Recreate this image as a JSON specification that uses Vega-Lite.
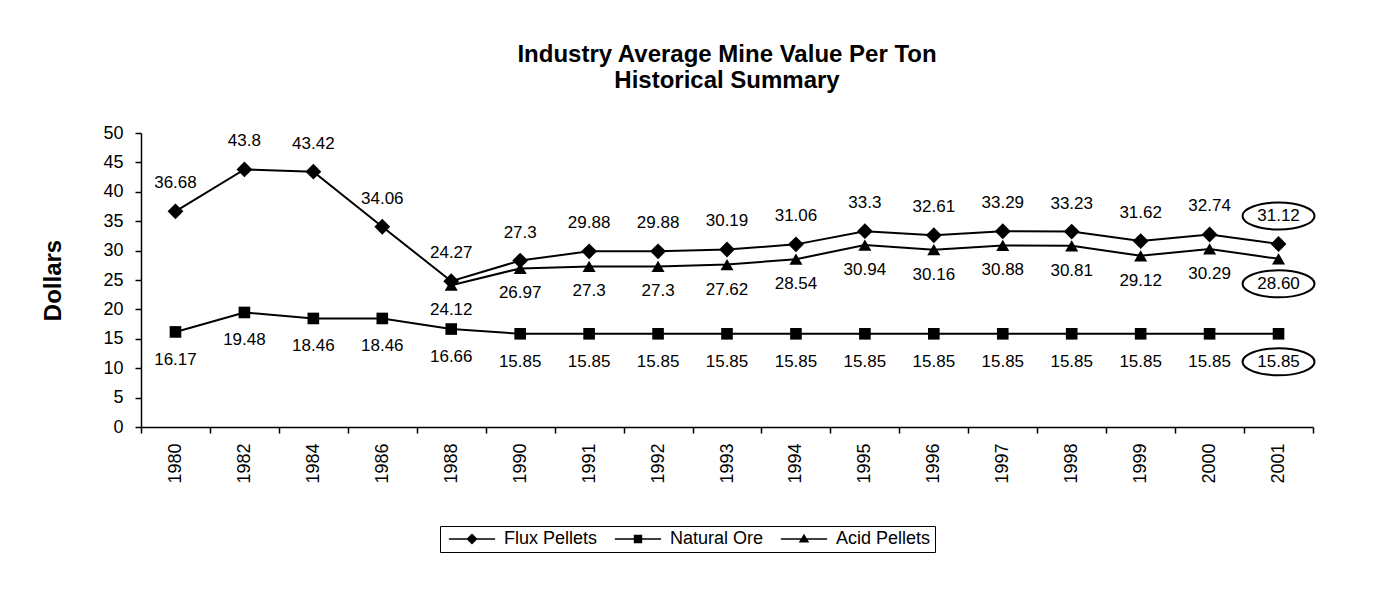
{
  "$schema": "https://vega.github.io/schema/vega-lite/v6.json",
  "width": 1172,
  "height": 294,
  "autosize": {"type": "none"},
  "padding": {"left": 141, "top": 133, "right": 69, "bottom": 170},
  "background": "white",
  "config": {
    "font": "Liberation Sans",
    "view": {"stroke": null},
    "axis": {"domainColor": "black", "tickColor": "black", "labelColor": "black", "titleColor": "black", "domainWidth": 1.5, "tickWidth": 1.5, "grid": false}
  },
  "title": {
    "text": ["Industry Average Mine Value Per Ton", "Historical Summary"],
    "fontSize": 24,
    "fontWeight": "bold",
    "lineHeight": 26,
    "color": "black",
    "anchor": "middle",
    "frame": "group",
    "offset": 31
  },
  "data": {
    "values": [
      {"year": "1980", "series": "Flux Pellets", "value": 36.68, "label": "36.68"},
      {"year": "1982", "series": "Flux Pellets", "value": 43.8, "label": "43.8"},
      {"year": "1984", "series": "Flux Pellets", "value": 43.42, "label": "43.42"},
      {"year": "1986", "series": "Flux Pellets", "value": 34.06, "label": "34.06"},
      {"year": "1988", "series": "Flux Pellets", "value": 24.8, "label": "24.27"},
      {"year": "1990", "series": "Flux Pellets", "value": 28.3, "label": "27.3"},
      {"year": "1991", "series": "Flux Pellets", "value": 29.88, "label": "29.88"},
      {"year": "1992", "series": "Flux Pellets", "value": 29.88, "label": "29.88"},
      {"year": "1993", "series": "Flux Pellets", "value": 30.19, "label": "30.19"},
      {"year": "1994", "series": "Flux Pellets", "value": 31.06, "label": "31.06"},
      {"year": "1995", "series": "Flux Pellets", "value": 33.3, "label": "33.3"},
      {"year": "1996", "series": "Flux Pellets", "value": 32.61, "label": "32.61"},
      {"year": "1997", "series": "Flux Pellets", "value": 33.29, "label": "33.29"},
      {"year": "1998", "series": "Flux Pellets", "value": 33.23, "label": "33.23"},
      {"year": "1999", "series": "Flux Pellets", "value": 31.62, "label": "31.62"},
      {"year": "2000", "series": "Flux Pellets", "value": 32.74, "label": "32.74"},
      {"year": "2001", "series": "Flux Pellets", "value": 31.12, "label": "31.12"},
      {"year": "1980", "series": "Natural Ore", "value": 16.17, "label": "16.17"},
      {"year": "1982", "series": "Natural Ore", "value": 19.48, "label": "19.48"},
      {"year": "1984", "series": "Natural Ore", "value": 18.46, "label": "18.46"},
      {"year": "1986", "series": "Natural Ore", "value": 18.46, "label": "18.46"},
      {"year": "1988", "series": "Natural Ore", "value": 16.66, "label": "16.66"},
      {"year": "1990", "series": "Natural Ore", "value": 15.85, "label": "15.85"},
      {"year": "1991", "series": "Natural Ore", "value": 15.85, "label": "15.85"},
      {"year": "1992", "series": "Natural Ore", "value": 15.85, "label": "15.85"},
      {"year": "1993", "series": "Natural Ore", "value": 15.85, "label": "15.85"},
      {"year": "1994", "series": "Natural Ore", "value": 15.85, "label": "15.85"},
      {"year": "1995", "series": "Natural Ore", "value": 15.85, "label": "15.85"},
      {"year": "1996", "series": "Natural Ore", "value": 15.85, "label": "15.85"},
      {"year": "1997", "series": "Natural Ore", "value": 15.85, "label": "15.85"},
      {"year": "1998", "series": "Natural Ore", "value": 15.85, "label": "15.85"},
      {"year": "1999", "series": "Natural Ore", "value": 15.85, "label": "15.85"},
      {"year": "2000", "series": "Natural Ore", "value": 15.85, "label": "15.85"},
      {"year": "2001", "series": "Natural Ore", "value": 15.85, "label": "15.85"},
      {"year": "1988", "series": "Acid Pellets", "value": 24.12, "label": "24.12"},
      {"year": "1990", "series": "Acid Pellets", "value": 26.97, "label": "26.97"},
      {"year": "1991", "series": "Acid Pellets", "value": 27.3, "label": "27.3"},
      {"year": "1992", "series": "Acid Pellets", "value": 27.3, "label": "27.3"},
      {"year": "1993", "series": "Acid Pellets", "value": 27.62, "label": "27.62"},
      {"year": "1994", "series": "Acid Pellets", "value": 28.54, "label": "28.54"},
      {"year": "1995", "series": "Acid Pellets", "value": 30.94, "label": "30.94"},
      {"year": "1996", "series": "Acid Pellets", "value": 30.16, "label": "30.16"},
      {"year": "1997", "series": "Acid Pellets", "value": 30.88, "label": "30.88"},
      {"year": "1998", "series": "Acid Pellets", "value": 30.81, "label": "30.81"},
      {"year": "1999", "series": "Acid Pellets", "value": 29.12, "label": "29.12"},
      {"year": "2000", "series": "Acid Pellets", "value": 30.29, "label": "30.29"},
      {"year": "2001", "series": "Acid Pellets", "value": 28.6, "label": "28.60"}
    ]
  },
  "encoding": {
    "x": {
      "field": "year",
      "type": "ordinal",
      "scale": {"type": "band", "paddingInner": 0, "paddingOuter": 0},
      "axis": {"title": null, "labelAngle": -90, "labelFontSize": 18, "tickBand": "extent", "tickSize": 6, "labelPadding": 10}
    },
    "y": {
      "field": "value",
      "type": "quantitative",
      "scale": {"domain": [0, 50], "nice": false, "zero": true},
      "axis": {"title": "Dollars", "titleFontSize": 24, "titleFontWeight": "bold", "titlePadding": 37, "values": [0, 5, 10, 15, 20, 25, 30, 35, 40, 45, 50], "labelFontSize": 18, "tickSize": 6, "labelPadding": 12}
    }
  },
  "layer": [
    {
      "mark": {"type": "line", "color": "black", "strokeWidth": 2},
      "encoding": {"detail": {"field": "series"}}
    },
    {
      "mark": {"type": "point", "filled": true, "color": "black", "opacity": 0, "size": 10},
      "encoding": {
        "shape": {
          "field": "series",
          "type": "nominal",
          "scale": {
            "domain": ["Flux Pellets", "Natural Ore", "Acid Pellets"],
            "range": [
              "M-3.3,-0.1H3.3V0.1H-3.3ZM0,-0.8L0.8,0L0,0.8L-0.8,0Z",
              "M-3.3,-0.1H3.3V0.1H-3.3ZM-0.6,-0.6H0.6V0.6H-0.6Z",
              "M-3.3,-0.1H3.3V0.1H-3.3ZM0,-0.75L0.75,0.5L-0.75,0.5Z"
            ]
          },
          "legend": {
            "title": null,
            "orient": "none",
            "direction": "horizontal",
            "legendX": 299,
            "legendY": 393,
            "strokeColor": "black",
            "padding": 4,
            "labelFontSize": 18,
            "labelColor": "black",
            "symbolSize": 196,
            "symbolOffset": 19,
            "labelOffset": 23,
            "columnPadding": 12,
            "encode": {
              "symbols": {
                "update": {
                  "fill": {"value": "black"},
                  "stroke": {"value": "black"},
                  "strokeWidth": {"value": 0.5},
                  "opacity": {"value": 1}
                }
              }
            }
          }
        }
      }
    },
    {
      "transform": [{"filter": "datum.series == 'Flux Pellets'"}],
      "layer": [
        {"mark": {"type": "point", "shape": "diamond", "size": 250, "filled": true, "color": "black", "opacity": 1}},
        {
          "mark": {"type": "text", "dy": -28, "fontSize": 17, "color": "black"},
          "encoding": {
            "text": {"field": "label"},
            "fontWeight": {"condition": {"test": "datum.year == '2001'", "value": "bold"}, "value": "normal"}
          }
        },
        {
          "transform": [{"filter": "datum.year == '2001'"}],
          "mark": {"type": "point", "shape": "M-1,0A1,0.375 0 1,0 1,0A1,0.375 0 1,0 -1,0Z", "size": 5184, "filled": false, "stroke": "black", "strokeWidth": 2, "opacity": 1, "yOffset": -28}
        }
      ]
    },
    {
      "transform": [{"filter": "datum.series == 'Natural Ore'"}],
      "layer": [
        {"mark": {"type": "point", "shape": "square", "size": 135, "filled": true, "color": "black", "opacity": 1}},
        {
          "mark": {"type": "text", "dy": 28, "fontSize": 17, "color": "black"},
          "encoding": {
            "text": {"field": "label"},
            "fontWeight": {"condition": {"test": "datum.year == '2001'", "value": "bold"}, "value": "normal"}
          }
        },
        {
          "transform": [{"filter": "datum.year == '2001'"}],
          "mark": {"type": "point", "shape": "M-1,0A1,0.375 0 1,0 1,0A1,0.375 0 1,0 -1,0Z", "size": 5184, "filled": false, "stroke": "black", "strokeWidth": 2, "opacity": 1, "yOffset": 28}
        }
      ]
    },
    {
      "transform": [{"filter": "datum.series == 'Acid Pellets'"}],
      "layer": [
        {"mark": {"type": "point", "shape": "triangle-up", "size": 170, "filled": true, "color": "black", "opacity": 1}},
        {
          "mark": {"type": "text", "dy": 25, "fontSize": 17, "color": "black"},
          "encoding": {
            "text": {"field": "label"},
            "fontWeight": {"condition": {"test": "datum.year == '2001'", "value": "bold"}, "value": "normal"}
          }
        },
        {
          "transform": [{"filter": "datum.year == '2001'"}],
          "mark": {"type": "point", "shape": "M-1,0A1,0.375 0 1,0 1,0A1,0.375 0 1,0 -1,0Z", "size": 5184, "filled": false, "stroke": "black", "strokeWidth": 2, "opacity": 1, "yOffset": 25}
        }
      ]
    }
  ]
}
